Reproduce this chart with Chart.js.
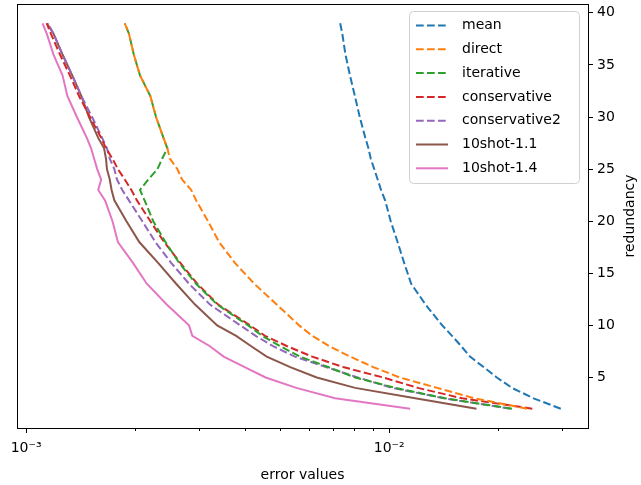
<!DOCTYPE html>
<html>
<head>
<meta charset="utf-8">
<script src="https://cdn.jsdelivr.net/npm/chart.js@4.4.0/dist/chart.umd.min.js"></script>
<style>
  html, body { margin: 0; padding: 0; background: #fff; }
  #wrap { width: 641px; height: 485px; }
</style>
</head>
<body>
<div id="wrap"><canvas id="chart"></canvas></div>
<script>
// redundancy levels (y axis), shared by every curve
const redundancy = [2, 3, 4, 5, 6, 7, 8, 9, 10, 12, 14, 16, 18, 20, 22, 23, 24, 25, 26, 27, 28, 30, 32, 34, 36, 38, 39];

// error values (x axis), one per redundancy level
const mean = [0.0297, 0.0250, 0.0218, 0.0198, 0.0182, 0.0167, 0.0158, 0.0149, 0.0140, 0.0126, 0.0115, 0.0110, 0.01055, 0.0101, 0.00975, 0.0095, 0.0093, 0.0091, 0.0089, 0.00877, 0.0086, 0.0083, 0.00805, 0.0078, 0.00758, 0.00743, 0.00733];
const direct = [0.0240, 0.0172, 0.01356, 0.0107, 0.00904, 0.00781, 0.00684, 0.00614, 0.00565, 0.0049, 0.00425, 0.00376, 0.0034, 0.00317, 0.00294, 0.00285, 0.00269, 0.00261, 0.00249, 0.00245, 0.00239, 0.00228, 0.0022, 0.00206, 0.00198, 0.00192, 0.00187];
const iterative = [0.0218, 0.01426, 0.0104, 0.00806, 0.00679, 0.00569, 0.00501, 0.00447, 0.00409, 0.00336, 0.00294, 0.00264, 0.00242, 0.00224, 0.00212, 0.00206, 0.00217, 0.0023, 0.00237, 0.00245, 0.00239, 0.00228, 0.0022, 0.00206, 0.00198, 0.00192, 0.00187];
const conservative = [0.0248, 0.0159, 0.0120, 0.00963, 0.00747, 0.00614, 0.00524, 0.00455, 0.00414, 0.00338, 0.00296, 0.00266, 0.0024, 0.0022, 0.00202, 0.00195, 0.00187, 0.00179, 0.00173, 0.00166, 0.00161, 0.0015, 0.0014, 0.00132, 0.00124, 0.00117, 0.00114];
const conservative2 = [0.02154, 0.01417, 0.0102, 0.0082, 0.0067, 0.0055, 0.00479, 0.00429, 0.00389, 0.00321, 0.00281, 0.00251, 0.00227, 0.00209, 0.00192, 0.00184, 0.00178, 0.00175, 0.0017, 0.00167, 0.00162, 0.00152, 0.00142, 0.00134, 0.00126, 0.00119, 0.00115];
const shot11 = [0.0174, 0.0118, 0.00806, 0.00632, 0.00534, 0.0046, 0.00417, 0.00379, 0.00336, 0.00292, 0.00259, 0.00231, 0.00205, 0.00189, 0.00175, 0.00172, 0.0017, 0.00167, 0.00166, 0.00164, 0.00158, 0.00149, 0.00142, 0.00134, 0.00126, 0.00119, 0.00114];
const shot14 = [0.01143, 0.0071, 0.00555, 0.00457, 0.004, 0.0035, 0.00321, 0.00287, 0.00281, 0.00244, 0.00215, 0.00197, 0.00179, 0.00173, 0.00165, 0.00158, 0.00161, 0.00157, 0.00154, 0.00151, 0.00147, 0.00138, 0.0013, 0.00126, 0.00119, 0.00114, 0.00111];

const seriesNames = ["mean", "direct", "iterative", "conservative", "conservative2", "10shot-1.1", "10shot-1.4"];

// axis ticks
const xMajorTicks = [0.001, 0.01];
const xMajorLabels = ["10\u207B\u00B3", "10\u207B\u00B2"];
const xMinorTicks = [0.002, 0.003, 0.004, 0.005, 0.006, 0.007, 0.008, 0.009, 0.02, 0.03];
const yTicks = [5, 10, 15, 20, 25, 30, 35, 40];

const FONT = "'DejaVu Sans', sans-serif";
const colors = ["#1f77b4", "#ff7f0e", "#2ca02c", "#d62728", "#9467bd", "#8c564b", "#e377c2"];
const dashed = [true, true, true, true, true, false, false];
const DASH = [7.7, 3.3];

const allSeries = [mean, direct, iterative, conservative, conservative2, shot11, shot14];

const datasets = allSeries.map((vals, i) => ({
    label: seriesNames[i],
    data: vals.map((v, k) => ({ x: v, y: redundancy[k] })),
    borderColor: colors[i],
    backgroundColor: colors[i],
    borderWidth: 2,
    borderDash: dashed[i] ? DASH : [],
    pointRadius: 0,
    showLine: true,
    fill: false,
    tension: 0,
}));

// no extra label padding: keep the plot box where the figure has it
function fixBox(s, w, h) {
    if (w) s.width = w;
    if (h) s.height = h;
    s.paddingLeft = s.paddingRight = s.paddingTop = s.paddingBottom = 0;
}

// frame, minor ticks, right-hand axis title and in-plot legend
const extras = {
    id: "extras",
    afterDraw(chart) {
        const { ctx, chartArea: a, scales } = chart;
        ctx.save();
        ctx.strokeStyle = "#000";
        ctx.lineWidth = 1;

        // minor ticks on log axis
        xMinorTicks.forEach(v => {
            const px = Math.round(scales.x.getPixelForValue(v)) + 0.5;
            ctx.beginPath();
            ctx.moveTo(px, a.bottom);
            ctx.lineTo(px, a.bottom + 3);
            ctx.stroke();
        });

        // axes frame
        ctx.strokeRect(Math.round(a.left) + 0.5, Math.round(a.top) + 0.5,
            Math.round(a.right - a.left), Math.round(a.bottom - a.top));

        // y title (right side, reading upwards)
        ctx.fillStyle = "#000";
        ctx.font = "14px " + FONT;
        ctx.textAlign = "center";
        ctx.textBaseline = "middle";
        ctx.translate(630, (a.top + a.bottom) / 2);
        ctx.rotate(-Math.PI / 2);
        ctx.fillText("redundancy", 0, 0);
        ctx.setTransform(1, 0, 0, 1, 0, 0);

        // legend
        const bx = 409.5, by = 11.5, bw = 170, bh = 172, r = 4;
        ctx.beginPath();
        ctx.moveTo(bx + r, by);
        ctx.arcTo(bx + bw, by, bx + bw, by + bh, r);
        ctx.arcTo(bx + bw, by + bh, bx, by + bh, r);
        ctx.arcTo(bx, by + bh, bx, by, r);
        ctx.arcTo(bx, by, bx + bw, by, r);
        ctx.closePath();
        ctx.fillStyle = "rgba(255,255,255,0.8)";
        ctx.fill();
        ctx.strokeStyle = "#d0d0d0";
        ctx.stroke();

        chart.data.datasets.forEach((ds, i) => {
            const yy = 25.5 + i * 23.8;
            ctx.strokeStyle = ds.borderColor;
            ctx.lineWidth = 2;
            ctx.setLineDash(ds.borderDash);
            ctx.beginPath();
            ctx.moveTo(416, yy);
            ctx.lineTo(448, yy);
            ctx.stroke();
            ctx.setLineDash([]);
            ctx.fillStyle = "#000";
            ctx.textAlign = "left";
            ctx.textBaseline = "middle";
            ctx.fillText(ds.label, 462, yy);
        });
        ctx.restore();
    },
};

new Chart(document.getElementById("chart"), {
    type: "scatter",
    data: { datasets },
    options: {
        responsive: true,
        maintainAspectRatio: false,
        animation: false,
        devicePixelRatio: 1,
        layout: { padding: { left: 17, top: 4, right: 0, bottom: 0 } },
        plugins: {
            legend: { display: false },
            tooltip: { enabled: false },
        },
        scales: {
            x: {
                type: "logarithmic",
                position: "bottom",
                min: 9.44e-4,
                max: 3.53e-2,
                afterBuildTicks: s => { s.ticks = xMajorTicks.map(v => ({ value: v })); },
                afterFit: s => fixBox(s, 0, 57),
                border: { display: false },
                grid: { drawOnChartArea: false, tickLength: 5, color: "#000", lineWidth: 1 },
                ticks: {
                    autoSkip: false,
                    maxRotation: 0,
                    padding: 7,
                    color: "#000",
                    font: { family: FONT, size: 14 },
                    callback: v => xMajorLabels[xMajorTicks.indexOf(v)] ?? "",
                },
                title: {
                    display: true,
                    text: "error values",
                    color: "#000",
                    font: { family: FONT, size: 14 },
                    padding: { top: 0, bottom: 1 },
                },
            },
            y: {
                type: "linear",
                position: "right",
                min: 0.15,
                max: 40.85,
                afterBuildTicks: s => { s.ticks = yTicks.map(v => ({ value: v })); },
                afterFit: s => fixBox(s, 53, 0),
                border: { display: false },
                grid: { drawOnChartArea: false, tickLength: 5, color: "#000", lineWidth: 1 },
                ticks: {
                    padding: 4,
                    color: "#000",
                    font: { family: FONT, size: 14 },
                },
            },
        },
    },
    plugins: [extras],
});
</script>
</body>
</html>
